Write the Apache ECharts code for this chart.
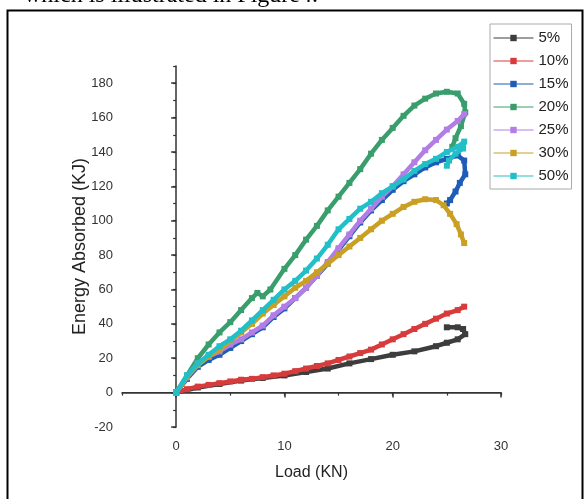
<!DOCTYPE html>
<html>
<head>
<meta charset="utf-8">
<script src="https://cdn.jsdelivr.net/npm/echarts@6/dist/echarts.min.js"></script>
<style>
html,body{margin:0;padding:0;background:#fff;}
#chart{width:585px;height:499px;}
</style>
</head>
<body>
<div id="chart"></div>
<script>
// ---- data (Load kN, Energy kJ) ----
const seriesNames = ['5%', '10%', '15%', '20%', '25%', '30%', '50%'];
const s5 = [[0,0],[2,3],[4,5],[6,7],[8,8.5],[10,10],[12,12],[14,14],[16,17],[18,19.5],[20,22],[22,24],[24,27],[25,29],[26,31],[26.7,34],[26.5,37],[26,38],[25,38]];
const s10 = [[0,0],[1,2],[2,3.5],[3,4.5],[4,5.5],[5,6.5],[6,7.5],[7,8],[8,9],[9,10],[10,11],[11,12.5],[12,14],[13,15.5],[14,17],[15,19],[16,21],[17,23],[18,25],[19,28],[20,31],[21,34],[22,37],[23,40],[24,43],[25,46],[26,48],[26.6,50]];
const s15 = [[0,0],[1,8],[2,15],[3,19],[4,22],[5,26],[6,30],[7,34],[8,38],[9,44],[10,49],[11,55],[12,61],[13,68],[14,75],[15,83],[16,91],[17,99],[18,106],[19,112],[20,118],[21,123],[22,127],[23,131],[24,134],[25,136],[26,138],[26.6,135],[26.7,127],[26.2,122],[25.8,117],[25.3,112],[25,110]];
const s20 = [[0,0],[1,10],[2,20],[3,28],[4,35],[5,41],[6,48],[7,55],[7.5,58],[8,56],[8.7,60],[10,72],[11,80],[12,89],[13,97],[14,106],[15,114],[16,122],[17,130],[18,139],[19,147],[20,154],[21,161],[22,167],[23,171],[24,174],[25,175],[26,174],[26.6,168],[26.7,163],[26.3,155],[25.8,148],[25.5,143]];
const s25 = [[0,0],[1,9],[2,17],[3,21],[4,24],[5,28],[6,31],[7,35],[8,39],[9,45],[10,50],[11,55],[12,61],[13,68],[14,76],[15,84],[16,92],[17,100],[18,107],[19,114],[20,120],[21,127],[22,134],[23,141],[24,147],[25,153],[26,158],[26.6,162]];
const s30 = [[0,0],[1,9],[2,16],[3,21],[4,25],[5,30],[6,35],[7,40],[8,46],[9,51],[10,56],[11,61],[12,65],[13,70],[14,75],[15,80],[16,85],[17,90],[18,95],[19,100],[20,104],[21,108],[22,111],[23,112.5],[24,112],[24.7,109],[25.3,104],[25.9,98],[26.3,92],[26.6,87]];
const s50 = [[0,0],[1,10],[2,17],[3,22],[4,27],[5,31],[6,36],[7,42],[8,48],[9,54],[10,60],[11,65],[12,71],[13,78],[14,86],[15,95],[16,101],[17,107],[18,111],[19,116],[20,120],[21,124],[22,129],[23,133],[24,136],[25,140],[26,143],[26.6,146],[26.5,142],[25.8,139],[25.2,135],[25,132]];
const seriesData = [s5, s10, s15, s20, s25, s30, s50];
const xRange = [-5, 30];
const yRange = [-20, 190];
const xMajor = [0, 10, 20, 30];
const yMajor = [-20, 0, 20, 40, 60, 80, 100, 120, 140, 160, 180];
const xMinorStep = 5;
const yMinorStep = 10;
const xTitle = 'Load (KN)';
const yTitle = 'Energy Absorbed (KJ)';
const headerText = 'which is illustrated in Figure4.';

const colors = ['#3d3d3d', '#d83b3b', '#1f5cb8', '#3a9e6c', '#b27ee6', '#c9a024', '#22bfc9'];
const font = '"Liberation Sans", Arial, sans-serif';

const chart = echarts.init(document.getElementById('chart'), null, {renderer: 'canvas'});

const series = seriesNames.map((name, i) => ({
  name: name,
  type: 'line',
  xAxisIndex: 0,
  yAxisIndex: 0,
  data: seriesData[i],
  symbol: 'rect',
  symbolSize: 6,
  showSymbol: true,
  lineStyle: {width: 4.5, color: colors[i]},
  itemStyle: {color: colors[i]},
  animation: false,
  z: 2 + i
}));
series[0].markLine = {
  silent: true,
  symbol: 'none',
  label: {show: false},
  lineStyle: {color: '#333', width: 1.2, type: 'solid'},
  data: [{yAxis: 0}],
  z: 1
};

const axisLine = {show: true, lineStyle: {color: '#333', width: 1.5}};
const labelStyle = {color: '#333', fontFamily: font, fontSize: 13};

chart.setOption({
  backgroundColor: '#fff',
  animation: false,
  grid: {left: 122, right: 84, top: 66, bottom: 72, containLabel: false},
  xAxis: [
    {
      type: 'value', min: xRange[0], max: xRange[1], position: 'bottom',
      axisLine: axisLine,
      axisTick: {show: true, inside: false, length: 5, customValues: xMajor, lineStyle: {color: '#333', width: 1.5}},
      axisLabel: Object.assign({}, labelStyle, {margin: 13, customValues: xMajor}),
      splitLine: {show: false},
      name: xTitle, nameLocation: 'middle', nameGap: 38, nameMoveOverlap: false,
      nameTextStyle: {color: '#222', fontFamily: font, fontSize: 16}
    },
    {
      type: 'value', min: xRange[0], max: xRange[1], interval: xMinorStep, position: 'bottom',
      axisLine: {show: false},
      axisTick: {show: true, inside: false, length: 3, lineStyle: {color: '#333', width: 1.2}},
      axisLabel: {show: false},
      splitLine: {show: false}
    }
  ],
  yAxis: [
    {
      type: 'value', min: yRange[0], max: yRange[1], position: 'left',
      axisLine: axisLine,
      axisTick: {show: true, inside: false, length: 5, customValues: yMajor, lineStyle: {color: '#333', width: 1.5}},
      axisLabel: Object.assign({}, labelStyle, {margin: 9, customValues: yMajor}),
      splitLine: {show: false},
      name: yTitle, nameLocation: 'middle', nameGap: 33, nameMoveOverlap: false,
      nameTextStyle: {color: '#222', fontFamily: font, fontSize: 18}
    },
    {
      type: 'value', min: yRange[0], max: yRange[1], interval: yMinorStep, position: 'left',
      axisLine: {show: false},
      axisTick: {show: true, inside: false, length: 3, lineStyle: {color: '#333', width: 1.2}},
      axisLabel: {show: false},
      splitLine: {show: false}
    }
  ],
  legend: {
    orient: 'vertical',
    left: 490, top: 24,
    padding: [6, 3, 5, 3],
    itemWidth: 40, itemHeight: 8, itemGap: 7,
    borderColor: '#aaa', borderWidth: 1,
    lineStyle: {width: 1},
    textStyle: {color: '#222', fontFamily: font, fontSize: 15, lineHeight: 16},
    data: seriesNames
  },
  graphic: [
    {type: 'rect', left: 5, top: 8, shape: {width: 575, height: 520}, style: {fill: 'none', stroke: '#000', lineWidth: 2}, silent: true},
    {type: 'text', x: 318, y: 7.5, style: {text: headerText, fill: '#000', font: '24px "Liberation Serif", serif', align: 'right', verticalAlign: 'bottom'}, silent: true, z: -1}
  ],
  series: series
});
</script>
</body>
</html>
